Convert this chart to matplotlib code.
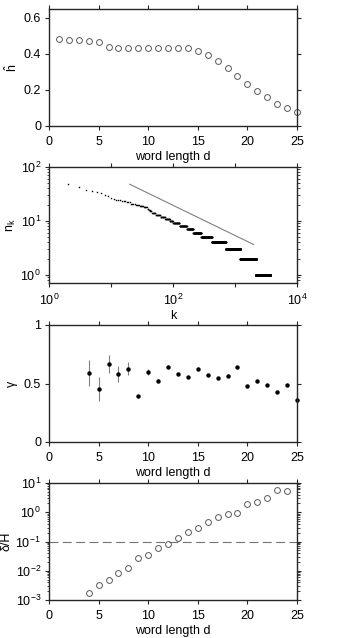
import numpy as np
import matplotlib
matplotlib.use("Agg")
import matplotlib.pyplot as plt
from matplotlib.ticker import FuncFormatter, LogLocator, NullLocator, NullFormatter

plt.rcParams['font.family'] = ['Liberation Sans', 'DejaVu Sans']
plt.rcParams['font.size'] = 9
plt.rcParams['mathtext.fontset'] = 'custom'
plt.rcParams['mathtext.rm'] = 'Liberation Sans'
plt.rcParams['mathtext.it'] = 'Liberation Sans'

# ---- panel 1: entropy estimate vs word length
d_h = list(range(1, 26))
h_hat = [0.481, 0.480, 0.479, 0.472, 0.468, 0.437, 0.435, 0.435, 0.435, 0.435,
         0.435, 0.435, 0.435, 0.433, 0.415, 0.394, 0.361, 0.324, 0.280, 0.235,
         0.196, 0.159, 0.122, 0.098, 0.078]

# ---- panel 2: rank-frequency (run-length: count value, last rank with that count)
nk_levels = [49, 42, 37, 36, 35, 33, 30, 29, 27, 26, 25, 24, 23, 22, 21, 20, 19,
             18, 17, 16, 15, 14, 13, 12, 11, 10, 9, 8, 7, 6, 5, 4, 3, 2, 1]
nk_last_rank = [2, 3, 4, 5, 6, 7, 8, 9, 10, 11, 12, 14, 17, 20, 24, 28, 33,
                38, 40, 42, 45, 52, 62, 74, 88, 99, 127, 167, 211, 284, 422, 706,
                1219, 2179, 3650]
nk_first_rank = 2
ref_k = [20, 2000]
ref_n = [48, 3.66]

# ---- panel 3: exponent gamma vs word length
d_g = list(range(4, 26))
gamma = [0.587, 0.453, 0.667, 0.581, 0.627, 0.390, 0.598, 0.524, 0.644, 0.581,
         0.558, 0.627, 0.573, 0.547, 0.567, 0.638, 0.481, 0.519, 0.490, 0.430,
         0.490, 0.362]
gamma_err = [0.110, 0.100, 0.080, 0.067, 0.056, 0.015, 0.025, 0.015, 0.012, 0.012,
             0.010, 0.010, 0.010, 0.010, 0.010, 0.010, 0.010, 0.010, 0.010, 0.010,
             0.010, 0.010]

# ---- panel 4: relative bias vs word length
d_r = list(range(4, 25))
rel = [1.78e-3, 3.3e-3, 4.9e-3, 8.2e-3, 0.0128, 0.0268, 0.034, 0.059, 0.079, 0.134,
       0.214, 0.279, 0.448, 0.665, 0.865, 0.91, 1.95, 2.17, 3.14, 5.6, 5.2]
rel_threshold = 0.1

# expand rank-frequency
ranks, counts = [], []
start = nk_first_rank
for lev, last in zip(nk_levels, nk_last_rank):
    r = np.arange(start, last + 1)
    ranks.append(r)
    counts.append(np.full(len(r), lev))
    start = last + 1
ranks = np.concatenate(ranks)
counts = np.concatenate(counts)

W, H = 357, 638
fig = plt.figure(figsize=(W / 100, H / 100), dpi=100)

def rect(top, bottom, left=49, right=297):
    return [left / W, 1 - bottom / H, (right - left) / W, (bottom - top) / H]

def style(ax):
    for s in ax.spines.values():
        s.set_linewidth(1.0)
        s.set_color('0.15')
    ax.tick_params(which='major', direction='out', length=3.2, width=0.8,
                   top=True, right=True, color='0.15')
    ax.tick_params(axis='x', which='major', pad=4)
    ax.tick_params(axis='y', which='major', pad=2.5)
    ax.tick_params(which='minor', direction='out', length=1.8, width=0.6,
                   top=True, right=True, color='0.15')

fmt = FuncFormatter(lambda v, p: '%g' % v)

# panel 1
ax1 = fig.add_axes(rect(9, 126))
ax1.plot(d_h, h_hat, 'o', mfc='none', mec='0.35', ms=4.2, mew=0.7, clip_on=False)
ax1.set_xlim(0, 25)
ax1.set_ylim(0, 0.65)
ax1.set_xticks([0, 5, 10, 15, 20, 25])
ax1.set_yticks([0, 0.2, 0.4, 0.6])
ax1.yaxis.set_major_formatter(fmt)
ax1.set_xlabel('word length d', labelpad=2)
ax1.set_ylabel('ĥ', labelpad=4)
style(ax1)

# panel 2
ax2 = fig.add_axes(rect(167, 283))
ax2.plot(ranks, counts, 's', color='black', ms=1.0, mew=0, clip_on=False)
ax2.plot(ref_k, ref_n, '-', color='0.5', lw=0.8)
ax2.set_xscale('log')
ax2.set_yscale('log')
ax2.set_xlim(1, 1e4)
ax2.set_ylim(0.71, 100)
ax2.xaxis.set_major_locator(LogLocator(base=10, numticks=10))
ax2.xaxis.set_minor_locator(NullLocator())
ax2.xaxis.set_major_formatter(FuncFormatter(
    lambda v, p: r'$\mathregular{10^{%d}}$' % round(np.log10(v)) if round(np.log10(v)) % 2 == 0 else ''))
ax2.yaxis.set_major_formatter(FuncFormatter(
    lambda v, p: r'$\mathregular{10^{%d}}$' % round(np.log10(v))))
ax2.yaxis.set_minor_locator(LogLocator(base=10, subs=np.arange(2, 10), numticks=10))
ax2.yaxis.set_minor_formatter(NullFormatter())
ax2.set_xlabel('k', labelpad=1)
ax2.set_ylabel(r'$\mathregular{n_k}$', labelpad=2)
style(ax2)

# panel 3
ax3 = fig.add_axes(rect(325, 442))
ax3.errorbar(d_g, gamma, yerr=gamma_err, fmt='none', ecolor='0.5', elinewidth=0.8,
             capsize=0, clip_on=False)
ax3.plot(d_g, gamma, 'o', color='black', ms=3.2, mew=0, clip_on=False)
ax3.set_xlim(0, 25)
ax3.set_ylim(0, 1)
ax3.set_xticks([0, 5, 10, 15, 20, 25])
ax3.set_yticks([0, 0.5, 1])
ax3.yaxis.set_major_formatter(fmt)
ax3.set_xlabel('word length d', labelpad=2)
ax3.set_ylabel('γ', labelpad=4)
style(ax3)

# panel 4
ax4 = fig.add_axes(rect(483, 600))
ax4.axhline(rel_threshold, color='0.45', lw=0.8, dashes=(8, 4))
ax4.plot(d_r, rel, 'o', mfc='none', mec='0.35', ms=4.2, mew=0.7, clip_on=False)
ax4.set_yscale('log')
ax4.set_xlim(0, 25)
ax4.set_ylim(1e-3, 10)
ax4.set_xticks([0, 5, 10, 15, 20, 25])
ax4.yaxis.set_major_locator(LogLocator(base=10, numticks=10))
ax4.yaxis.set_major_formatter(FuncFormatter(
    lambda v, p: r'$\mathregular{10^{%d}}$' % round(np.log10(v))))
ax4.yaxis.set_minor_locator(LogLocator(base=10, subs=np.arange(2, 10), numticks=10))
ax4.yaxis.set_minor_formatter(NullFormatter())
ax4.set_xlabel('word length d', labelpad=2)
ax4.set_ylabel('δ/Ĥ', labelpad=2)
style(ax4)

fig.savefig('out.png', dpi=100)
